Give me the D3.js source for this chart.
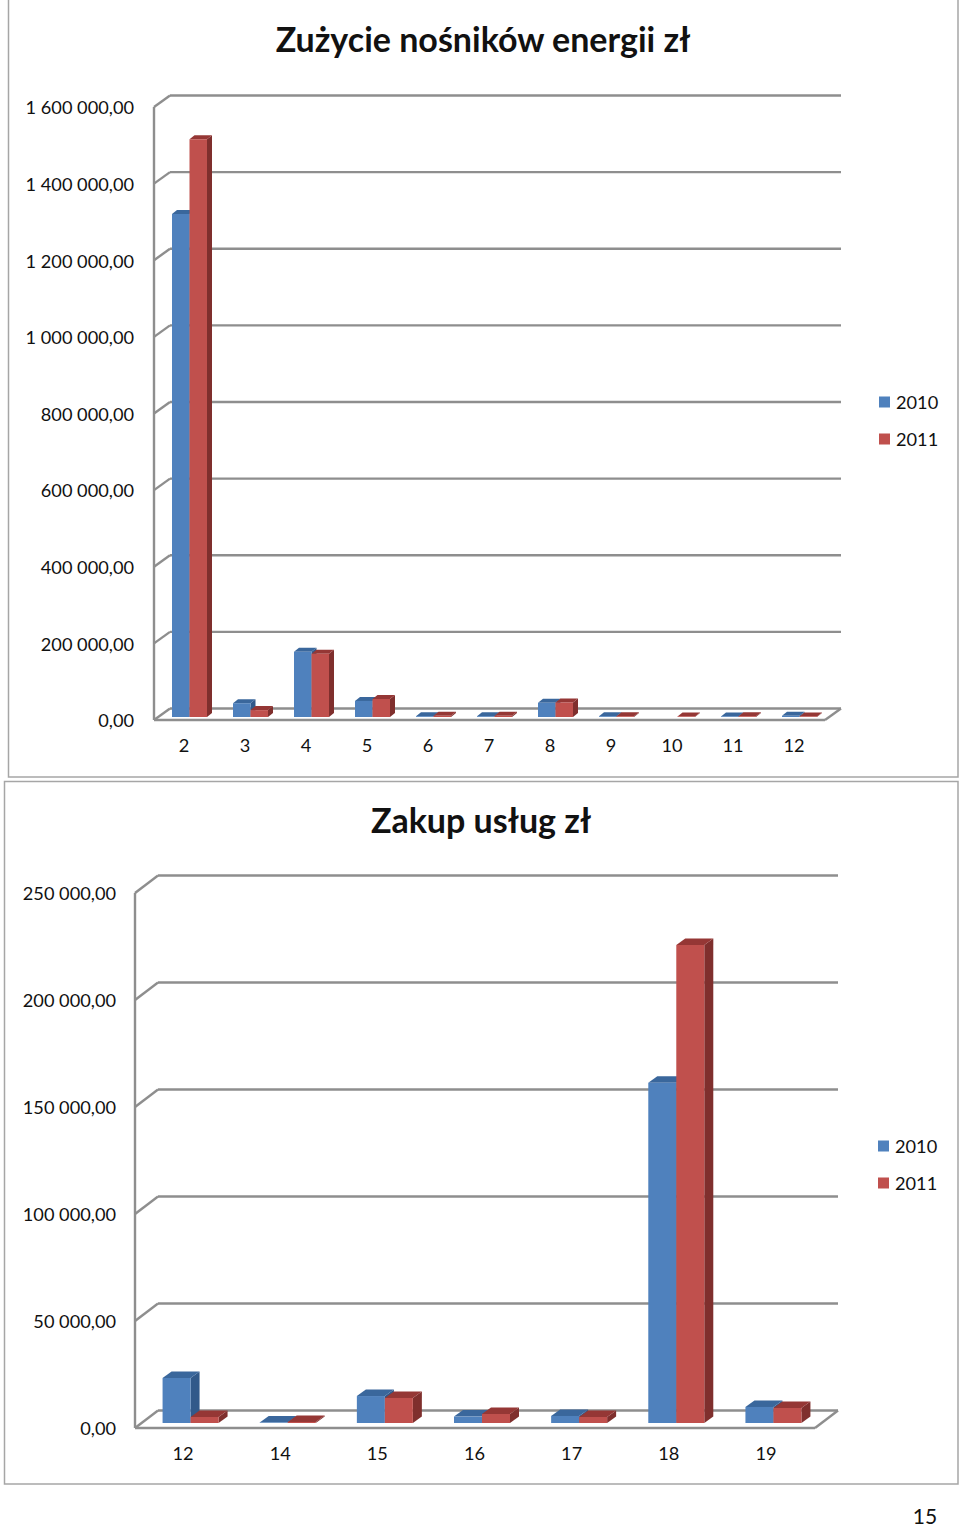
<!DOCTYPE html>
<html>
<head>
<meta charset="utf-8">
<script src="https://cdn.jsdelivr.net/npm/d3@7"></script>
<style>
html, body { margin: 0; padding: 0; background: #fff; }
svg { display: block; }
text { font-family: Lato, "Open Sans", sans-serif; fill: #111; }
</style>
</head>
<body>
<svg id="page" width="960" height="1527"></svg>
<script>
var seriesNames = ['2010', '2011'];

var energyCats = ['2', '3', '4', '5', '6', '7', '8', '9', '10', '11', '12'];
var energy2010 = [1313000, 36000, 170000, 42000, 2000, 2000, 37000, 2000, 0, 1500, 3000];
var energy2011 = [1508000, 18000, 165000, 47000, 3000, 3000, 38000, 2000, 1500, 2000, 1500];
var energyTicks = [0, 200000, 400000, 600000, 800000, 1000000, 1200000, 1400000, 1600000];

var serviceCats = ['12', '14', '15', '16', '17', '18', '19'];
var service2010 = [21000, 200, 12600, 3000, 3300, 159000, 7500];
var service2011 = [2800, 500, 11700, 4200, 2800, 223400, 7000];
var serviceTicks = [0, 50000, 100000, 150000, 200000, 250000];

var colours = [
	{front: '#4f81bd', top: '#3a679c', side: '#31598a'},
	{front: '#c0504d', top: '#953735', side: '#7f2f2d'}
];
var gridColour = '#8e8e8e';

function money(v)
{
	var s = String(v).replace(/\B(?=(\d{3})+$)/g, ' ');
	return s + ',00';
}

function poly(g, pts, fill)
{
	g.append('polygon').attr('points', pts.map(p => p.join(',')).join(' ')).attr('fill', fill);
}

function line(g, x1, y1, x2, y2)
{
	g.append('line').attr('x1', x1).attr('y1', y1).attr('x2', x2).attr('y2', y2)
		.attr('stroke', gridColour).attr('stroke-width', 2.4);
}

function drawBar(g, x, w, y, base, dx, dy, c)
{
	poly(g, [[x + w, y], [x + w + dx, y - dy], [x + w + dx, base - dy], [x + w, base]], c.side);
	poly(g, [[x, y], [x + dx, y - dy], [x + w + dx, y - dy], [x + w, y]], c.top);
	poly(g, [[x, y], [x + w, y], [x + w, base], [x, base]], c.front);
}

function drawChart(o)
{
	var svg = d3.select('#page');
	svg.append('rect').attr('x', o.frame[0]).attr('y', o.frame[1])
		.attr('width', o.frame[2] - o.frame[0]).attr('height', o.frame[3] - o.frame[1])
		.attr('fill', '#fff').attr('stroke', '#a6a6a6').attr('stroke-width', 1.5);

	svg.append('text').attr('x', o.titleX).attr('y', o.titleY).attr('text-anchor', 'middle')
		.attr('font-size', 34).attr('font-weight', 700).text(o.title);

	var x = d3.scaleBand().domain(o.cats).range([o.left, o.right]);
	var y = d3.scaleLinear().domain([0, o.ticks[o.ticks.length - 1]]).range([o.bottom, o.top]);
	var inner = d3.scaleBand().domain(seriesNames).range([0, o.barW * 2]);

	// walls first, bars sit on top of them
	var walls = svg.append('g');
	o.ticks.forEach(t => {
		line(walls, o.left, y(t), o.left + o.wallX, y(t) - o.wallY);
		line(walls, o.left + o.wallX, y(t) - o.wallY, o.right + o.wallX, y(t) - o.wallY);
	});
	line(walls, o.left, o.top, o.left, o.bottom);
	line(walls, o.left, o.bottom, o.right, o.bottom);
	line(walls, o.right, o.bottom, o.right + o.wallX, o.bottom - o.wallY);

	var bars = svg.append('g');
	var unit = (o.bottom - o.top) / y.domain()[1];
	o.cats.forEach((cat, i) => {
		var start = x(cat) + x.bandwidth() / 2 + o.barShift - o.barW;
		[o.s2010, o.s2011].forEach((vals, k) => {
			if (vals[i] > 0)
			{
				var top = o.bottom - o.barLift - vals[i] * unit;
				drawBar(bars, start + inner(seriesNames[k]), inner.bandwidth(), top, o.bottom - o.barLift, o.barDx, o.barDy, colours[k]);
			}
		});
	});

	var yAxis = d3.axisLeft(y).tickValues(o.ticks).tickSize(0).tickPadding(0).tickFormat(money);
	var ya = svg.append('g').attr('transform', 'translate(' + o.labelX + ',1)').call(yAxis);
	ya.select('.domain').remove();
	ya.selectAll('text').attr('font-size', 18.2).attr('font-family', null);

	var xAxis = d3.axisBottom(x).tickSize(0).tickPadding(0);
	var xa = svg.append('g').attr('transform', 'translate(-0.5,' + o.catY + ')').call(xAxis);
	xa.select('.domain').remove();
	xa.selectAll('text').attr('font-size', 18.2).attr('font-family', null);

	seriesNames.forEach((name, k) => {
		var ly = o.legendY[k];
		svg.append('rect').attr('x', o.legendX).attr('y', ly - 5.5).attr('width', 11).attr('height', 11)
			.attr('fill', colours[k].front);
		svg.append('text').attr('x', o.legendX + 17).attr('y', ly + 1).attr('dy', '0.34em')
			.attr('font-size', 18.2).text(name);
	});
}

drawChart({
	title: 'Zużycie nośników energii zł', titleX: 483, titleY: 52,
	frame: [8.5, -2, 958, 777],
	cats: energyCats, s2010: energy2010, s2011: energy2011, ticks: energyTicks,
	left: 154, right: 825, top: 107, bottom: 720,
	wallX: 16, wallY: 11.5, barW: 17.5, barShift: 5, barLift: 3, barDx: 5, barDy: 4,
	labelX: 134, catY: 739, legendX: 879, legendY: [402, 439]
});

drawChart({
	title: 'Zakup usług zł', titleX: 481, titleY: 833,
	frame: [4.5, 781.5, 958, 1484],
	cats: serviceCats, s2010: service2010, s2011: service2011, ticks: serviceTicks,
	left: 135, right: 815, top: 893, bottom: 1428,
	wallX: 23, wallY: 17.5, barW: 28, barShift: 7, barLift: 5, barDx: 9, barDy: 6.5,
	labelX: 116, catY: 1447, legendX: 878, legendY: [1146, 1183]
});

d3.select('#page').append('text').attr('x', 925).attr('y', 1524).attr('text-anchor', 'middle')
	.attr('font-size', 21).text('15');
</script>
</body>
</html>
